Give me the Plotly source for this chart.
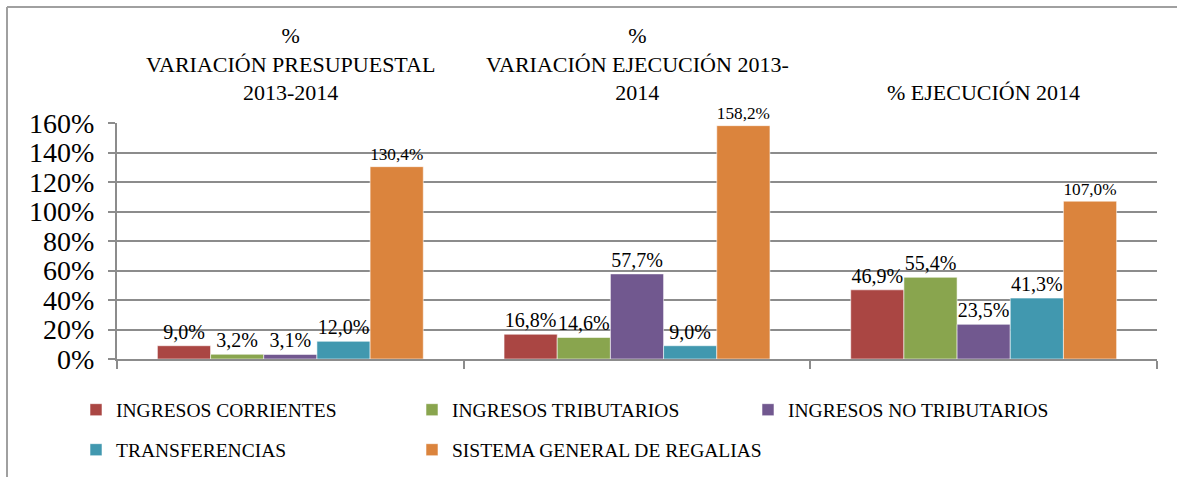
import plotly.graph_objects as go

categories = ["%<br>VARIACIÓN PRESUPUESTAL<br>2013-2014",
              "%<br>VARIACIÓN EJECUCIÓN 2013-<br>2014",
              "% EJECUCIÓN 2014"]
series_names = ["INGRESOS CORRIENTES", "INGRESOS TRIBUTARIOS", "INGRESOS NO TRIBUTARIOS",
                "TRANSFERENCIAS", "SISTEMA GENERAL DE REGALIAS"]
ingresos_corrientes = [9.0, 16.8, 46.9]
ingresos_tributarios = [3.2, 14.6, 55.4]
ingresos_no_tributarios = [3.1, 57.7, 23.5]
transferencias = [12.0, 9.0, 41.3]
sgr = [130.4, 158.2, 107.0]
colors = ["#AA4643", "#89A54E", "#71588F", "#4198AF", "#DB843D"]
y_ticks = [0, 20, 40, 60, 80, 100, 120, 140, 160]

series_values = [ingresos_corrientes, ingresos_tributarios, ingresos_no_tributarios, transferencias, sgr]
cat_keys = ["c0", "c1", "c2"]

FONT = "Liberation Serif, Times New Roman, serif"
W, H = 1177, 477
L, R, T, B = 117, 20, 123, 118
pw, ph = W - L - R, H - T - B

# legend grid: 3 columns x 2 rows
legend_ids = ["legend", "legend2", "legend3", "legend4", "legend5"]
col_x = [76, 412, 748]
row_y = [410, 450]

fig = go.Figure()
for i, (name, vals, col) in enumerate(zip(series_names, series_values, colors)):
    fig.add_trace(go.Bar(
        name=name, x=cat_keys, y=vals,
        marker=dict(color=col, line=dict(color="rgba(255,255,255,0.55)", width=1)),
        text=[f"{v:.1f}%".replace(".", ",") for v in vals],
        textposition="outside", cliponaxis=False,
        textfont=dict(family=FONT, size=20, color="#000"),
        legend=legend_ids[i],
        hoverinfo="skip",
    ))

for key, lab in zip(cat_keys, categories):
    fig.add_annotation(x=key, xref="x", y=1, yref="paper", yanchor="bottom",
                       text=lab, showarrow=False, align="center", yshift=16,
                       font=dict(family=FONT, size=22, color="#000"))

def px2x(px):
    return (px - L) / pw

def py2y(py):
    return (H - B - py) / ph

gray_frame = "#A0A0A0"
fig.add_shape(type="line", xref="paper", yref="paper", x0=px2x(7), x1=px2x(7),
              y0=py2y(7), y1=py2y(480), line=dict(color=gray_frame, width=2))
fig.add_shape(type="line", xref="paper", yref="paper", x0=px2x(7), x1=px2x(1180),
              y0=py2y(7), y1=py2y(7), line=dict(color=gray_frame, width=2))

grid = "#8C8C8C"
legends = {}
for i, lid in enumerate(legend_ids):
    legends[lid] = dict(orientation="h", xref="container", yref="container",
                        x=col_x[i % 3] / W, xanchor="left",
                        y=1 - row_y[i // 3] / H, yanchor="middle",
                        font=dict(family=FONT, size=19.5, color="#000"),
                        bgcolor="rgba(0,0,0,0)")

fig.update_layout(
    width=W, height=H, margin=dict(l=L, r=R, t=T, b=B, autoexpand=False),
    paper_bgcolor="white", plot_bgcolor="white",
    barmode="group", bargap=0.233, bargroupgap=0,
    font=dict(family=FONT, color="#000"),
    xaxis=dict(showticklabels=False, showline=True, linecolor=grid, linewidth=2,
               ticks="outside", tickson="boundaries", ticklen=8, tickcolor=grid, tickwidth=2,
               showgrid=False, fixedrange=True, automargin=False),
    yaxis=dict(range=[0, 160], tickvals=y_ticks, ticktext=[f"{v}%" for v in y_ticks],
               showgrid=True, gridcolor=grid, gridwidth=2,
               showline=True, linecolor=grid, linewidth=2,
               ticks="outside", ticklen=7, tickcolor=grid, tickwidth=2,
               tickfont=dict(family=FONT, size=28, color="#000"),
               zeroline=False, ticklabelstandoff=8, fixedrange=True, automargin=False),
    showlegend=True,
    **legends,
)

fig.write_html("out.html", config={"displayModeBar": False},
               post_script="document.body.style.margin='0';document.body.style.overflow='hidden';")
